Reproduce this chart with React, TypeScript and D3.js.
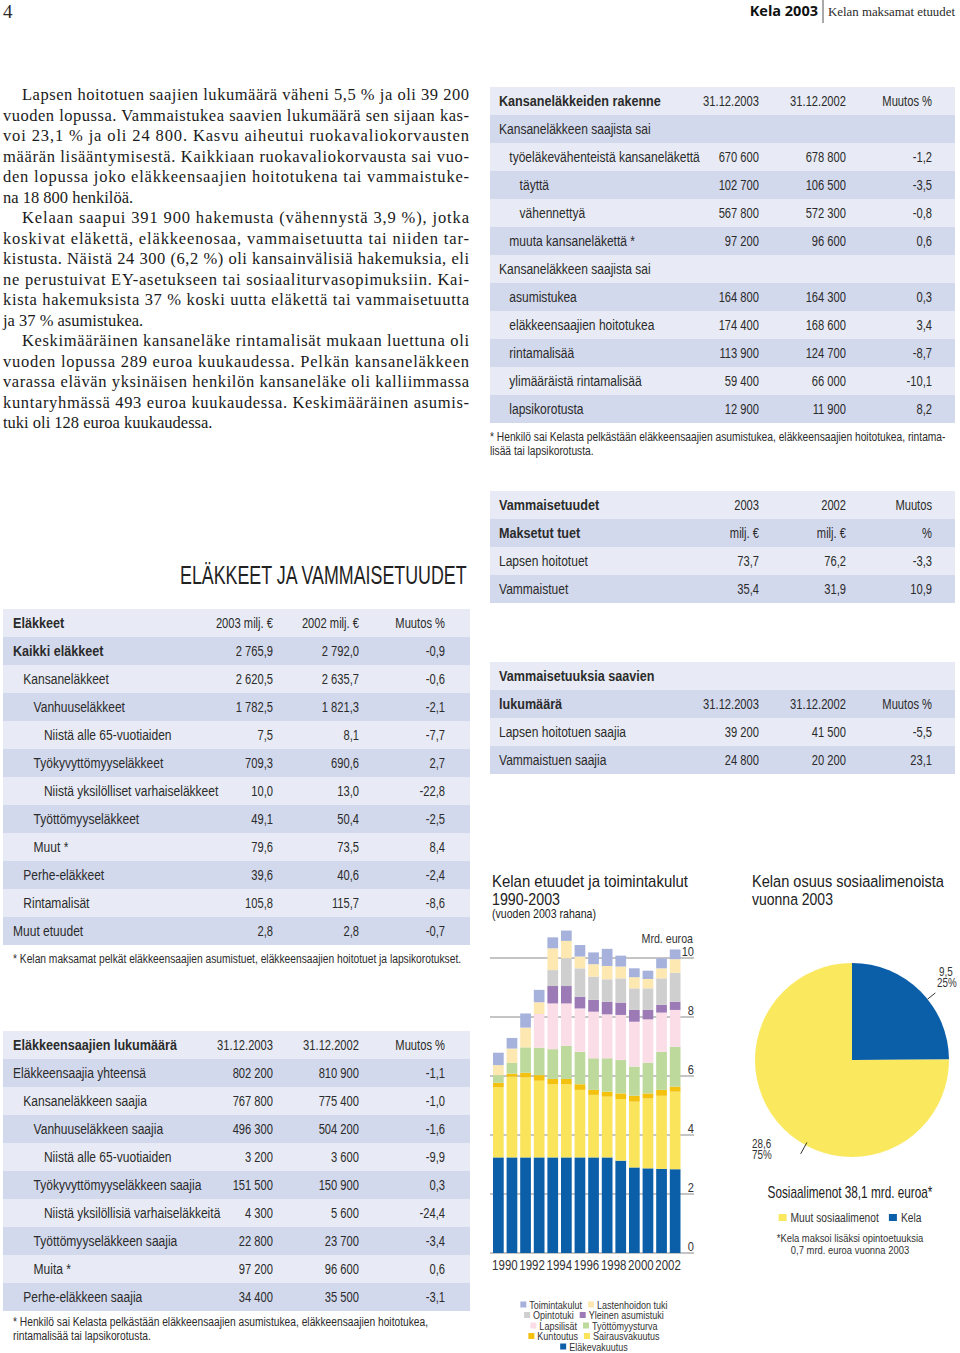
import { useEffect, useRef } from "react";
import * as d3 from "d3";

// ---- bar chart data (Mrd. euroa, vuoden 2003 rahana) ----
const years = [1990, 1991, 1992, 1993, 1994, 1995, 1996, 1997, 1998, 1999, 2000, 2001, 2002, 2003];
const elakevakuutus = [3.24, 3.24, 3.24, 3.24, 3.24, 3.24, 3.24, 3.24, 3.24, 3.13, 2.9, 2.87, 2.85, 2.84];
const sairausvakuutus = [2.38, 2.74, 2.71, 2.6, 2.48, 2.48, 2.29, 2.12, 2.06, 2.09, 2.23, 2.37, 2.48, 2.63];
const kuntoutus = [0.15, 0.1, 0.16, 0.19, 0.18, 0.18, 0.19, 0.17, 0.17, 0.19, 0.2, 0.17, 0.2, 0.17];
const tyottomyysturva = [0.26, 0.36, 0.86, 0.93, 1.01, 1.12, 1.1, 1.07, 1.13, 1.13, 0.99, 1.04, 1.29, 1.35];
const lapsilisat = [0, 0, 0, 1.14, 1.55, 1.44, 1.47, 1.58, 1.49, 1.53, 1.52, 1.47, 1.33, 1.25];
const asumistuki = [0, 0, 0, 0, 0.59, 0.59, 0.4, 0.4, 0.43, 0.42, 0.4, 0.32, 0.26, 0.28];
const opintotuki = [0, 0, 0, 0, 0.54, 0.94, 0.96, 0.79, 0.76, 0.82, 0.73, 0.73, 0.9, 0.98];
const lastenhoidon = [0.34, 0.49, 0.67, 0.4, 0.74, 0.59, 0.4, 0.42, 0.45, 0.4, 0.38, 0.32, 0.34, 0.46];
const toimintakulut = [0.42, 0.36, 0.48, 0.42, 0.37, 0.35, 0.39, 0.4, 0.58, 0.37, 0.3, 0.28, 0.34, 0.33];
const yTicks = [0, 2, 4, 6, 8, 10];
const yearLabels = [1990, 1992, 1994, 1996, 1998, 2000, 2002];

const seriesKeys = ["Eläkevakuutus", "Sairausvakuutus", "Kuntoutus", "Työttömyysturva", "Lapsilisät", "Yleinen asumistuki", "Opintotuki", "Lastenhoidon tuki", "Toimintakulut"];
const seriesData = [elakevakuutus, sairausvakuutus, kuntoutus, tyottomyysturva, lapsilisat, asumistuki, opintotuki, lastenhoidon, toimintakulut];
const seriesColors = ["#0b5ea8", "#fae45c", "#f4c10f", "#bdd99c", "#fbdde7", "#9b7ab6", "#cfcfcf", "#fde8b2", "#a6b2dc"];
const legendRows = [["Toimintakulut", "Lastenhoidon tuki"], ["Opintotuki", "Yleinen asumistuki"], ["Lapsilisät", "Työttömyysturva"], ["Kuntoutus", "Sairausvakuutus"], ["Eläkevakuutus"]];

// ---- pie data ----
const pieNames = ["Kela", "Muut sosiaalimenot"];
const pieValues = [9.5, 28.6];
const piePct = ["25%", "75%"];
const pieColors = ["#0b5ea8", "#fae85e"];

// ---- body text (lines as typeset) ----
const bodyLines = [
  "Lapsen hoitotuen saajien lukumäärä väheni 5,5 % ja oli 39 200",
  "vuoden lopussa. Vammaistukea saavien lukumäärä sen sijaan kas-",
  "voi 23,1 % ja oli 24 800. Kasvu aiheutui ruokavaliokorvausten",
  "määrän lisääntymisestä. Kaikkiaan ruokavaliokorvausta sai vuo-",
  "den lopussa joko eläkkeensaajien hoitotukena tai vammaistuke-",
  "na 18 800 henkilöä.",
  "Kelaan saapui 391 900 hakemusta (vähennystä 3,9 %), jotka",
  "koskivat eläkettä, eläkkeenosaa, vammaisetuutta tai niiden tar-",
  "kistusta. Näistä 24 300 (6,2 %) oli kansainvälisiä hakemuksia, eli",
  "ne perustuivat EY-asetukseen tai sosiaaliturvasopimuksiin. Kai-",
  "kista hakemuksista 37 % koski uutta eläkettä tai vammaisetuutta",
  "ja 37 % asumistukea.",
  "Keskimääräinen kansaneläke rintamalisät mukaan luettuna oli",
  "vuoden lopussa 289 euroa kuukaudessa. Pelkän kansaneläkkeen",
  "varassa elävän yksinäisen henkilön kansaneläke oli kalliimmassa",
  "kuntaryhmässä 493 euroa kuukaudessa. Keskimääräinen asumis-",
  "tuki oli 128 euroa kuukaudessa.",
];
const paraStarts = [0, 6, 12];
const paraEnds = [5, 11, 16];

// ---- tables ----
const rakenneLabels = ["Kansaneläkkeiden rakenne", "Kansaneläkkeen saajista sai", "työeläkevähenteistä kansaneläkettä", "täyttä", "vähennettyä", "muuta kansaneläkettä *", "Kansaneläkkeen saajista sai", "asumistukea", "eläkkeensaajien hoitotukea", "rintamalisää", "ylimääräistä rintamalisää", "lapsikorotusta"];
const rakenneLevels = [0, 0, 1, 2, 2, 1, 0, 1, 1, 1, 1, 1];
const rakenne2003 = ["31.12.2003", "", "670 600", "102 700", "567 800", "97 200", "", "164 800", "174 400", "113 900", "59 400", "12 900"];
const rakenne2002 = ["31.12.2002", "", "678 800", "106 500", "572 300", "96 600", "", "164 300", "168 600", "124 700", "66 000", "11 900"];
const rakenneMuutos = ["Muutos %", "", "-1,2", "-3,5", "-0,8", "0,6", "", "0,3", "3,4", "-8,7", "-10,1", "8,2"];
const rakenneNote = ["* Henkilö sai Kelasta pelkästään eläkkeensaajien asumistukea, eläkkeensaajien hoitotukea, rintama-", "lisää tai lapsikorotusta."];

const vammaisLabels = ["Vammaisetuudet", "Maksetut tuet", "Lapsen hoitotuet", "Vammaistuet"];
const vammais2003 = ["2003", "milj. €", "73,7", "35,4"];
const vammais2002 = ["2002", "milj. €", "76,2", "31,9"];
const vammaisMuutos = ["Muutos", "%", "-3,3", "10,9"];

const saajatLabels = ["Vammaisetuuksia saavien", "lukumäärä", "Lapsen hoitotuen saajia", "Vammaistuen saajia"];
const saajat2003 = ["", "31.12.2003", "39 200", "24 800"];
const saajat2002 = ["", "31.12.2002", "41 500", "20 200"];
const saajatMuutos = ["", "Muutos %", "-5,5", "23,1"];

const elakeLabels = ["Eläkkeet", "Kaikki eläkkeet", "Kansaneläkkeet", "Vanhuuseläkkeet", "Niistä alle 65-vuotiaiden", "Työkyvyttömyyseläkkeet", "Niistä yksilölliset varhaiseläkkeet", "Työttömyyseläkkeet", "Muut *", "Perhe-eläkkeet", "Rintamalisät", "Muut etuudet"];
const elakeLevels = [0, 0, 1, 2, 3, 2, 3, 2, 2, 1, 1, 0];
const elake2003 = ["2003 milj. €", "2 765,9", "2 620,5", "1 782,5", "7,5", "709,3", "10,0", "49,1", "79,6", "39,6", "105,8", "2,8"];
const elake2002 = ["2002 milj. €", "2 792,0", "2 635,7", "1 821,3", "8,1", "690,6", "13,0", "50,4", "73,5", "40,6", "115,7", "2,8"];
const elakeMuutos = ["Muutos %", "-0,9", "-0,6", "-2,1", "-7,7", "2,7", "-22,8", "-2,5", "8,4", "-2,4", "-8,6", "-0,7"];
const elakeNote = ["* Kelan maksamat pelkät eläkkeensaajien asumistuet, eläkkeensaajien hoitotuet ja lapsikorotukset."];

const lukuLabels = ["Eläkkeensaajien lukumäärä", "Eläkkeensaajia yhteensä", "Kansaneläkkeen saajia", "Vanhuuseläkkeen saajia", "Niistä alle 65-vuotiaiden", "Työkyvyttömyyseläkkeen saajia", "Niistä yksilöllisiä varhaiseläkkeitä", "Työttömyyseläkkeen saajia", "Muita *", "Perhe-eläkkeen saajia"];
const lukuLevels = [0, 0, 1, 2, 3, 2, 3, 2, 2, 1];
const luku2003 = ["31.12.2003", "802 200", "767 800", "496 300", "3 200", "151 500", "4 300", "22 800", "97 200", "34 400"];
const luku2002 = ["31.12.2002", "810 900", "775 400", "504 200", "3 600", "150 900", "5 600", "23 700", "96 600", "35 500"];
const lukuMuutos = ["Muutos %", "-1,1", "-1,0", "-1,6", "-9,9", "0,3", "-24,4", "-3,4", "0,6", "-3,1"];
const lukuNote = ["* Henkilö sai Kelasta pelkästään eläkkeensaajien asumistukea, eläkkeensaajien hoitotukea,", "rintamalisää tai lapsikorotusta."];

const SANS = "'Liberation Sans',Arial,sans-serif";
const SERIF = "'Liberation Serif','DejaVu Serif',serif";
const INK = "#2b2b2b";
const SX = 0.82; // horizontal squeeze to imitate a condensed face

function measure(text: string, size: number, weight = "normal") {
  const c = document.createElement("canvas").getContext("2d")!;
  c.font = `${weight} ${size}px 'Liberation Sans', Arial, sans-serif`;
  return c.measureText(text).width;
}

// condensed text helper
function nt(g: any, x: number, y: number, s: string | number, size: number, anchor = "start", weight = "normal", sx = SX) {
  return g.append("text").attr("transform", `translate(${x},${y}) scale(${sx},1)`)
    .attr("font-size", size).attr("text-anchor", anchor).attr("font-weight", weight).text(s);
}

// text squeezed to a given width
function fit(g: any, x: number, y: number, s: string, size: number, width: number, anchor = "start") {
  return nt(g, x, y, s, size, anchor, "normal", width / measure(s, size));
}

function drawTable(g: any, o: any) {
  const n = o.labels.length;
  for (let i = 0; i < n; i++) {
    const top = o.top + i * 28;
    g.append("rect").attr("x", o.x0).attr("y", top).attr("width", o.x1 - o.x0).attr("height", 28)
      .attr("fill", i % 2 === 0 ? "#e8ebf5" : "#d3d9ed");
    const bold = o.bold.includes(i);
    nt(g, o.labelX + (o.levels ? o.levels[i] : 0) * 10.3, top + 19, o.labels[i], 14.5, "start",
      bold ? "bold" : "normal", bold ? 0.87 : 0.83);
    o.cols.forEach((col: string[], j: number) => {
      if (!col[i]) return;
      nt(g, o.colRight[j], top + 19, col[i], 14.5, "end", "normal", 0.77);
    });
  }
}

export default function App() {
  const ref = useRef<SVGSVGElement>(null);

  useEffect(() => {
    const svg = d3.select(ref.current);
    svg.selectAll("*").remove();

    // header
    svg.append("text").attr("x", 3).attr("y", 18).attr("font-family", SERIF).attr("font-size", 19).attr("fill", INK).text("4");
    svg.append("text").attr("x", 818).attr("y", 16).attr("text-anchor", "end").attr("font-family", "'Open Sans',sans-serif")
      .attr("font-weight", "bold").attr("font-size", 14.5).attr("fill", "#111").text("Kela 2003");
    svg.append("line").attr("x1", 823).attr("x2", 823).attr("y1", 0).attr("y2", 23).attr("stroke", "#555");
    svg.append("text").attr("x", 828).attr("y", 16).attr("font-family", SERIF).attr("font-size", 13).attr("fill", INK)
      .attr("textLength", 127).attr("lengthAdjust", "spacingAndGlyphs").text("Kelan maksamat etuudet");

    // body text
    const body = svg.append("g").attr("font-family", SERIF).attr("font-size", 16.5).attr("fill", "#1a1a1a");
    bodyLines.forEach((line, i) => {
      const x = paraStarts.includes(i) ? 22 : 3;
      const t = body.append("text").attr("x", x).attr("y", 100 + i * 20.5).text(line);
      if (!paraEnds.includes(i)) t.attr("textLength", 469 - x).attr("lengthAdjust", "spacing");
    });

    // tables
    const tg = svg.append("g").attr("font-family", SANS).attr("fill", INK);
    drawTable(tg, { x0: 490, x1: 955, top: 87, labels: rakenneLabels, levels: rakenneLevels, bold: [0], labelX: 499,
      cols: [rakenne2003, rakenne2002, rakenneMuutos], colRight: [759, 846, 932] });
    drawTable(tg, { x0: 490, x1: 955, top: 491, labels: vammaisLabels, bold: [0, 1], labelX: 499,
      cols: [vammais2003, vammais2002, vammaisMuutos], colRight: [759, 846, 932] });
    drawTable(tg, { x0: 490, x1: 955, top: 662, labels: saajatLabels, bold: [0, 1], labelX: 499,
      cols: [saajat2003, saajat2002, saajatMuutos], colRight: [759, 846, 932] });
    drawTable(tg, { x0: 3, x1: 470, top: 609, labels: elakeLabels, levels: elakeLevels, bold: [0, 1], labelX: 13,
      cols: [elake2003, elake2002, elakeMuutos], colRight: [273, 359, 445] });
    drawTable(tg, { x0: 3, x1: 470, top: 1031, labels: lukuLabels, levels: lukuLevels, bold: [0], labelX: 13,
      cols: [luku2003, luku2002, lukuMuutos], colRight: [273, 359, 445] });

    const notes = svg.append("g").attr("font-family", SANS).attr("fill", INK);
    rakenneNote.forEach((s, i) => nt(notes, 490, 441 + i * 14, s, 12.5));
    elakeNote.forEach((s, i) => nt(notes, 13, 963 + i * 14, s, 12.5));
    lukuNote.forEach((s, i) => nt(notes, 13, 1326 + i * 14, s, 12.5));

    const title = svg.append("g").attr("font-family", SANS).attr("fill", "#222");
    fit(title, 180, 584, "ELÄKKEET JA VAMMAISETUUDET", 25, 288);

    // ---- stacked bar chart ----
    const rows = years.map((yr, i) => {
      const r: any = { year: yr };
      seriesKeys.forEach((k, j) => (r[k] = seriesData[j][i]));
      return r;
    });
    const stack = d3.stack().keys(seriesKeys)(rows);
    const x = d3.scaleBand<number>().domain(years).range([493, 680.5]).paddingInner(0.213);
    const y = d3.scaleLinear().domain([0, 10]).range([1253, 958]);
    const bc = svg.append("g").attr("font-family", SANS).attr("fill", "#333");

    const bt = bc.append("g").attr("fill", "#222");
    fit(bt, 492, 887, "Kelan etuudet ja toimintakulut", 17, 196);
    fit(bt, 492, 905, "1990-2003", 17, 68);
    fit(bt, 492, 918, "(vuoden 2003 rahana)", 12, 104);

    bc.append("g").selectAll("line").data(yTicks).join("line")
      .attr("x1", 490).attr("x2", 694).attr("y1", (d) => y(d)).attr("y2", (d) => y(d))
      .attr("stroke", "#8a8a8a").attr("stroke-width", 1);
    bc.append("g").selectAll("text").data(yTicks).join("text")
      .attr("transform", (d) => `translate(694,${y(d) - 2.5}) scale(${SX},1)`)
      .attr("text-anchor", "end").attr("font-size", 13.5).text((d) => d);
    nt(bc, 693, 942.5, "Mrd. euroa", 13, "end");

    bc.append("g").selectAll("g").data(stack).join("g")
      .attr("fill", (_d, i) => seriesColors[i])
      .selectAll("rect").data((d) => d).join("rect")
      .attr("x", (d: any) => x(d.data.year)!)
      .attr("width", x.bandwidth())
      .attr("y", (d) => y(d[1]))
      .attr("height", (d) => Math.max(0, y(d[0]) - y(d[1])));

    bc.append("g").selectAll("text").data(yearLabels).join("text")
      .attr("transform", (d) => `translate(${x(d)! + x.bandwidth() / 2 + x.step() * 0.48},1270) scale(${SX},1)`)
      .attr("text-anchor", "middle").attr("font-size", 14).text((d) => d);

    // legend
    legendRows.forEach((row, ri) => {
      const widths = row.map((s) => 6 + 3 + measure(s, 11) * SX);
      const total = d3.sum(widths) + (row.length - 1) * 6;
      let cx = 594 - total / 2;
      const cy = 1305 + ri * 10.5;
      row.forEach((name, k) => {
        const col = seriesColors[seriesKeys.indexOf(name)];
        bc.append("rect").attr("x", cx).attr("y", cy - 3.5).attr("width", 6).attr("height", 6).attr("fill", col);
        nt(bc, cx + 9, cy + 3.5, name, 11);
        cx += widths[k] + 6;
      });
    });

    // ---- pie ----
    const pg = svg.append("g").attr("font-family", SANS).attr("fill", "#333");
    const ptl = pg.append("g").attr("fill", "#222");
    fit(ptl, 752, 887, "Kelan osuus sosiaalimenoista", 17, 192);
    fit(ptl, 752, 905, "vuonna 2003", 17, 81);

    const cxp = 852, cyp = 1060, R = 97;
    const arcs = d3.pie<number>().sort(null)(pieValues);
    const arc = d3.arc<any>().innerRadius(0).outerRadius(R);
    const pie = pg.append("g").attr("transform", `translate(${cxp},${cyp})`);
    pie.selectAll("path").data(arcs).join("path").attr("d", arc).attr("fill", (_d, i) => pieColors[i]);

    const leadAngles = [arcs[0].startAngle + (arcs[0].endAngle - arcs[0].startAngle) * 0.57, arcs[1].startAngle + (arcs[1].endAngle - arcs[1].startAngle) * 0.44];
    const pt = (a: number, r: number) => [Math.sin(a) * r, -Math.cos(a) * r];
    leadAngles.forEach((a, i) => {
      const [x1, y1] = pt(a, i === 0 ? 97 : 94);
      const [x2, y2] = pt(a, 107);
      pie.append("line").attr("x1", x1).attr("y1", y1).attr("x2", x2).attr("y2", y2).attr("stroke", "#333").attr("stroke-width", 1);
    });
    const fmt = (v: number) => d3.format(".1f")(v).replace(".", ",");
    nt(pg, 939, 976, fmt(pieValues[0]), 12);
    nt(pg, 937, 987, piePct[0], 12);
    nt(pg, 752, 1148, fmt(pieValues[1]), 12);
    nt(pg, 752, 1158.5, piePct[1], 12);

    fit(pg.append("g").attr("fill", "#222"), 850, 1198, `Sosiaalimenot ${fmt(d3.sum(pieValues))} mrd. euroa*`, 16, 165, "middle");
    const order = [1, 0];
    const w = order.map((i) => 8 + 4 + measure(pieNames[i], 12.5) * SX);
    let lx = 850 - (d3.sum(w) + 10) / 2;
    order.forEach((i, k) => {
      pg.append("rect").attr("x", lx).attr("y", 1214).attr("width", 8).attr("height", 7).attr("fill", pieColors[i]);
      nt(pg, lx + 12, 1222, pieNames[i], 12.5);
      lx += w[k] + 10;
    });
    nt(pg, 850, 1242, "*Kela maksoi lisäksi opintoetuuksia", 11.5, "middle");
    nt(pg, 850, 1254, "0,7 mrd. euroa vuonna 2003", 11.5, "middle");
  }, []);

  return <svg ref={ref} width={960} height={1353} style={{ position: "absolute", left: 0, top: 0, background: "#fff" }} />;
}
